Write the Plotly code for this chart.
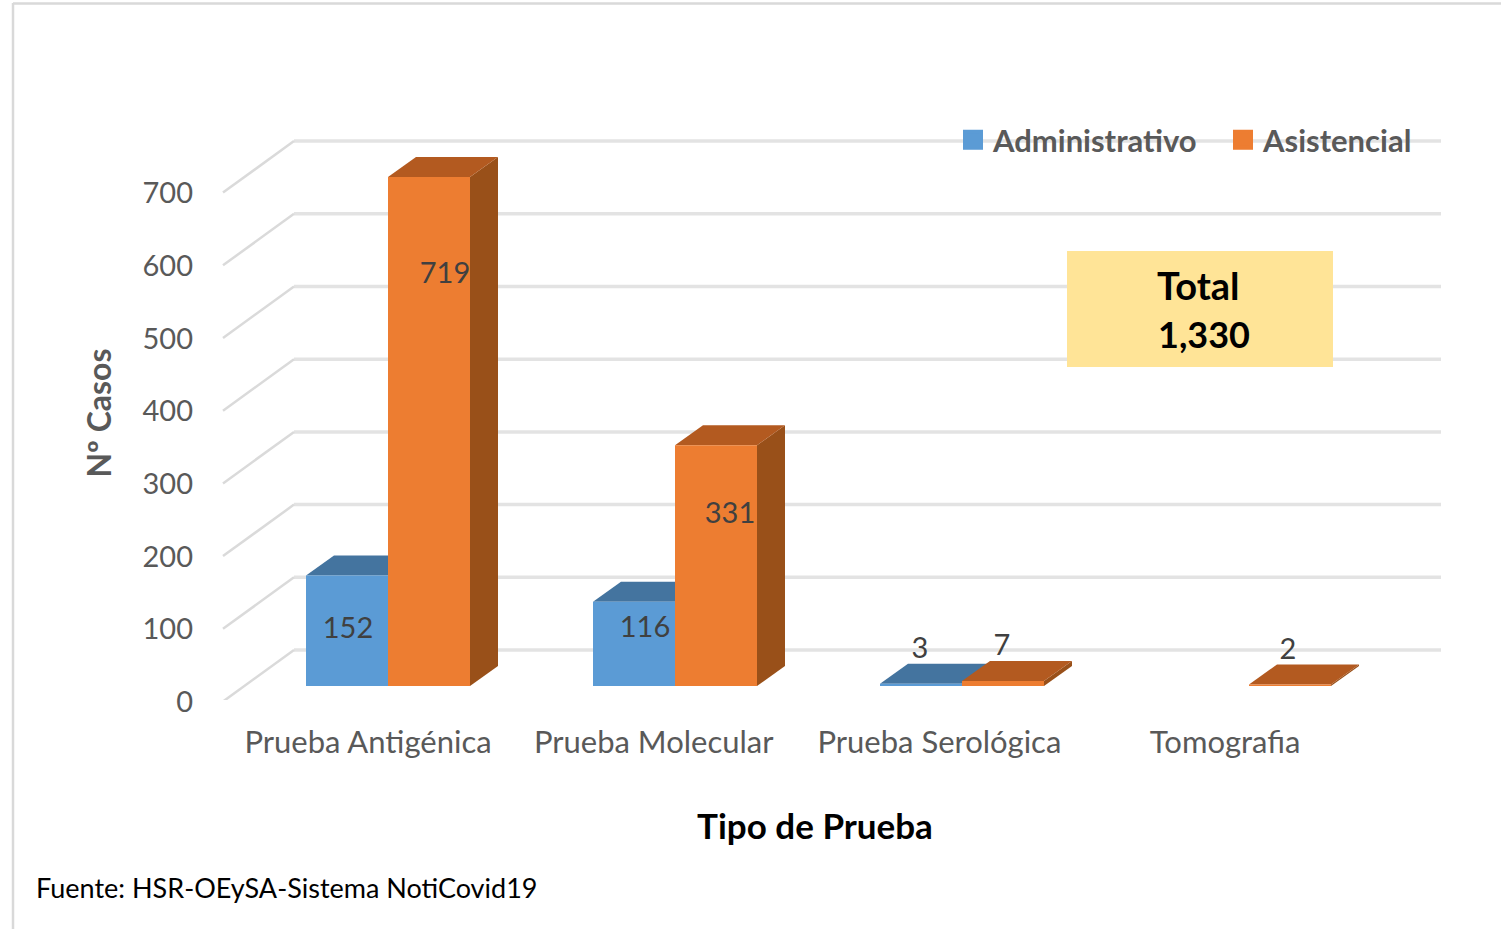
import plotly.graph_objects as go

categories = ["Prueba Antigénica", "Prueba Molecular", "Prueba Serológica", "Tomografia"]
administrativo = [152, 116, 3, 0]
asistencial = [719, 331, 7, 2]
y_ticks = [0, 100, 200, 300, 400, 500, 600, 700]
total_text = ["Total", "1,330"]
source = "Fuente: HSR-OEySA-Sistema NotiCovid19"

# Layout constants (pixels)
W, H = 1501, 929
L, R, T, B = 189, 1441, 126, 700
PX_X = 287.0      # pixels per category step
PX_Y = 0.727      # pixels per case
X0 = 368.0        # pixel of category 0 tick
LABEL_STEP = 285.7 / 287.0
AXIS_MAX = 700

BAR_W = 82 / PX_X
ADMIN_OFF = (306 - X0) / PX_X
ASIST_OFF = (388 - X0) / PX_X
DEPTH_X = 28 / PX_X
DEPTH_Y = 20 / PX_Y
FLOOR = 14 / PX_Y
WALL_X0 = (223 - X0) / PX_X
WALL_X1 = (294 - X0) / PX_X
WALL_X2 = (1441 - X0) / PX_X
WALL_DY = 50 / PX_Y
WALL_FRONT = -1.5 / PX_Y

# Manual label placement, as on the source chart
admin_label_dx = [1, 11, -1, 0]
admin_label_y = [95, 96, 67.5, 0]
asist_label_dx = [16, 14, -1, -2]
asist_label_y = [584, 253, 72, 66]

FONT = "Lato"
GRAY = "#595959"
BLUE = dict(front="#5B9BD5", top="#44749F", side="#3A6288")
ORANGE = dict(front="#ED7D31", top="#B35A20", side="#995019")


def px_x(px):
    return (px - L) / (R - L)


def px_y(py):
    return (B - py) / (B - T)


fig = go.Figure()

# Walls and floor gridlines
gx, gy, dx, dy = [], [], [], []
for t in y_ticks:
    gx += [WALL_X1, WALL_X2, None]
    gy += [t + WALL_DY, t + WALL_DY, None]
    dx += [WALL_X0, WALL_X1, None]
    dy += [t + WALL_FRONT, t + WALL_DY, None]
fig.add_trace(go.Scatter(x=gx, y=gy, mode="lines", line=dict(color="#E3E3E3", width=3.5),
                         showlegend=False, hoverinfo="skip", cliponaxis=False))
fig.add_trace(go.Scatter(x=dx, y=dy, mode="lines", line=dict(color="#DADADA", width=2.5),
                         showlegend=False, hoverinfo="skip", cliponaxis=False))


def poly(xs, ys, color):
    fig.add_trace(go.Scatter(x=xs, y=ys, mode="lines", fill="toself", fillcolor=color,
                             line=dict(width=0, color=color), showlegend=False,
                             hoverinfo="skip", cliponaxis=False))


def bars(values, offset, colors):
    for i, v in enumerate(values):
        if not v:
            continue
        h = min(v, AXIS_MAX) + FLOOR
        x0 = i + offset
        x1 = x0 + BAR_W
        poly([x1, x1 + DEPTH_X, x1 + DEPTH_X, x1],
             [FLOOR, FLOOR + DEPTH_Y, h + DEPTH_Y, h], colors["side"])
        poly([x0, x1, x1 + DEPTH_X, x0 + DEPTH_X],
             [h, h, h + DEPTH_Y, h + DEPTH_Y], colors["top"])
        poly([x0, x1, x1, x0], [FLOOR, FLOOR, h, h], colors["front"])


bars(administrativo, ADMIN_OFF, BLUE)
bars(asistencial, ASIST_OFF, ORANGE)


def labels(values, offset, label_dx, label_y):
    xs, ys, ts = [], [], []
    for i, v in enumerate(values):
        if v:
            xs.append(i + offset + BAR_W / 2 + label_dx[i] / PX_X)
            ys.append(label_y[i])
            ts.append(str(v))
    fig.add_trace(go.Scatter(x=xs, y=ys, text=ts, mode="text", showlegend=False, hoverinfo="skip",
                             textposition="middle center", cliponaxis=False,
                             textfont=dict(family=FONT, size=29, color="#404040")))


labels(administrativo, ADMIN_OFF, admin_label_dx, admin_label_y)
labels(asistencial, ASIST_OFF, asist_label_dx, asist_label_y)

# Legend entries
for name, c in (("Administrativo", BLUE["front"]), ("Asistencial", ORANGE["front"])):
    fig.add_trace(go.Scatter(x=[None], y=[None], mode="markers", name=name,
                             marker=dict(symbol="square", size=16, color=c, line=dict(color=c, width=4))))

fig.update_layout(
    width=W, height=H,
    margin=dict(l=L, r=W - R, t=T, b=H - B, autoexpand=False),
    paper_bgcolor="white", plot_bgcolor="rgba(0,0,0,0)",
    font=dict(family=FONT, color=GRAY),
    legend=dict(orientation="h", x=px_x(953), y=px_y(140), xanchor="left", yanchor="middle",
                bgcolor="rgba(0,0,0,0)", font=dict(family=FONT, size=31, color=GRAY, weight="bold"),
                itemwidth=30, traceorder="normal", entrywidth=225, entrywidthmode="pixels"),
    xaxis=dict(range=[(L - X0) / PX_X, (R - X0) / PX_X], showgrid=False, zeroline=False,
               showline=False, ticks="", tickmode="array",
               tickvals=[i * LABEL_STEP for i in range(len(categories))], ticktext=categories,
               tickfont=dict(family=FONT, size=31, color=GRAY), ticklabelstandoff=21,
               title=dict(text="Tipo de Prueba", standoff=55,
                          font=dict(family=FONT, size=35, color="#000000", weight="bold"))),
    yaxis=dict(range=[0, (B - T) / PX_Y], showgrid=False, zeroline=False, showline=False,
               ticks="", tickmode="array", tickvals=y_ticks, ticklabelstandoff=-5, ticklabelshift=2,
               tickfont=dict(family=FONT, size=29, color=GRAY),
               title=dict(text="Nº Casos", standoff=21,
                          font=dict(family=FONT, size=32, color=GRAY, weight="bold"))),
    shapes=[
        dict(type="line", xref="paper", yref="paper", x0=px_x(13), x1=px_x(13), y0=px_y(3), y1=px_y(929),
             line=dict(color="#D9D9D9", width=2.5)),
        dict(type="line", xref="paper", yref="paper", x0=px_x(13), x1=px_x(1501), y0=px_y(3.5), y1=px_y(3.5),
             line=dict(color="#D9D9D9", width=2.5)),
        dict(type="rect", xref="paper", yref="paper", x0=px_x(1067), x1=px_x(1333), y0=px_y(251), y1=px_y(367),
             fillcolor="#FFE497", line=dict(width=0)),
    ],
    annotations=[
        dict(text=total_text[0], xref="paper", yref="paper", x=px_x(1198), y=px_y(285), showarrow=False,
             xanchor="center", yanchor="middle",
             font=dict(family=FONT, size=38, color="#000000", weight="bold")),
        dict(text=total_text[1], xref="paper", yref="paper", x=px_x(1204), y=px_y(334), showarrow=False,
             xanchor="center", yanchor="middle",
             font=dict(family=FONT, size=36, color="#000000", weight="bold")),
        dict(text=source, xref="paper", yref="paper", x=px_x(34), y=px_y(887), xanchor="left", yanchor="middle",
             showarrow=False, font=dict(family=FONT, size=27, color="#000000")),
    ],
)

fig.write_html("out.html", config={"displayModeBar": False},
               post_script="document.body.style.margin='0';")
